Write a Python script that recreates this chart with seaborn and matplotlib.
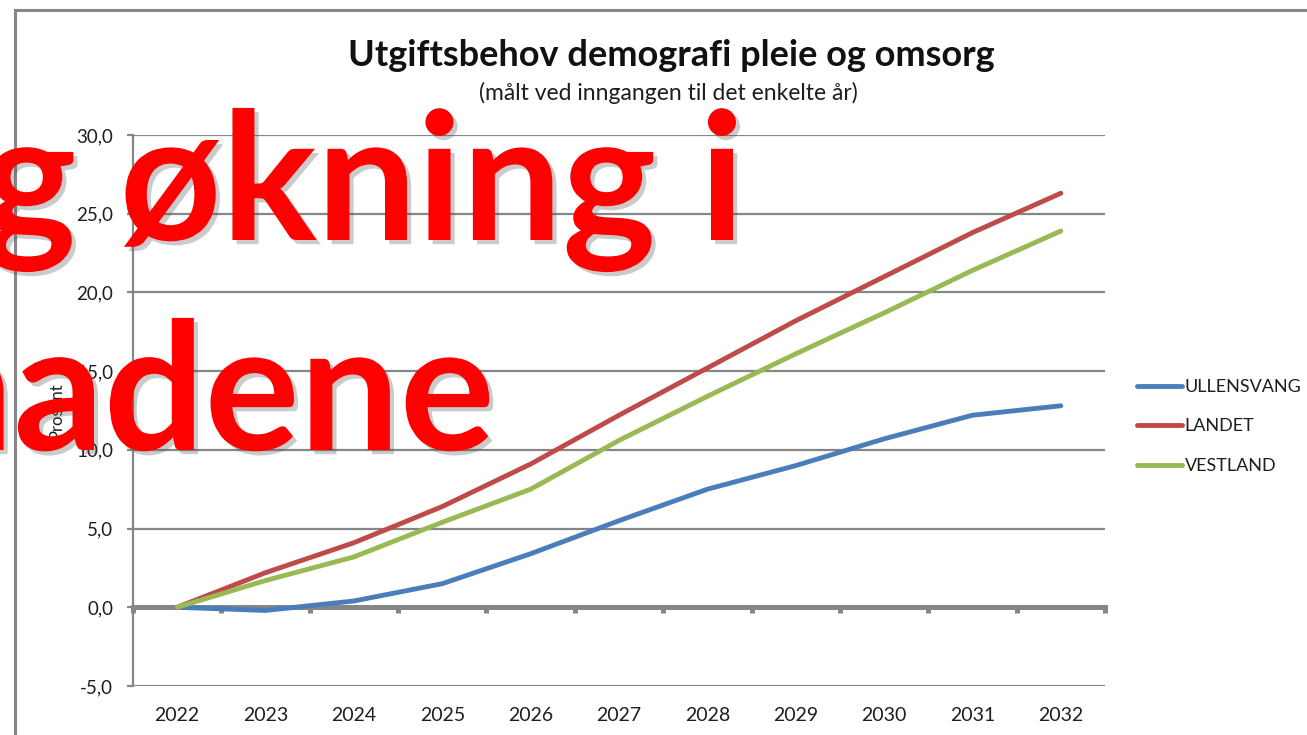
import numpy as np
import pandas as pd
import matplotlib
matplotlib.use("Agg")
import matplotlib.pyplot as plt
import matplotlib.patheffects as pe
from matplotlib.patches import Rectangle
import seaborn as sns

years = [2022, 2023, 2024, 2025, 2026, 2027, 2028, 2029, 2030, 2031, 2032]
ullensvang = [0.0, -0.2, 0.4, 1.5, 3.4, 5.5, 7.5, 9.0, 10.7, 12.2, 12.8]
landet = [0.0, 2.2, 4.1, 6.4, 9.1, 12.2, 15.2, 18.2, 21.0, 23.8, 26.3]
vestland = [0.0, 1.7, 3.2, 5.4, 7.5, 10.6, 13.4, 16.1, 18.7, 21.4, 23.9]
series_names = ["ULLENSVANG", "LANDET", "VESTLAND"]
colors = ["#4A7EBB", "#BE4B48", "#98B954"]
yticks = [-5, 0, 5, 10, 15, 20, 25, 30]
title = "Utgiftsbehov demografi pleie og omsorg"
subtitle = "(målt ved inngangen til det enkelte år)"
ylabel = "Prosent"
overlay1 = "g økning i"
overlay2 = "nadene"

df = pd.DataFrame({
    "year": years * 3,
    "value": ullensvang + landet + vestland,
    "series": [s for s in series_names for _ in years],
})

sns.set_theme(style="white")
plt.rcParams["font.family"] = ["Lato", "DejaVu Sans"]

fig = plt.figure(figsize=(13.07, 7.35), dpi=100)
W, H = 1307, 735
ax = fig.add_axes([133 / W, 1 - 686 / H, (1105 - 133) / W, (686 - 135) / H])

grid_c = "#868686"
txt_c = "#1e1e1e"
for y in yticks:
    if y != 0:
        ax.axhline(y, color=grid_c, lw=1.6, zorder=1)

sns.lineplot(data=df, x="year", y="value", hue="series", palette=colors,
             hue_order=series_names, lw=3.5, ax=ax, zorder=3, legend=True)

ax.set_xlim(2021.5, 2032.5)
ax.set_ylim(-5, 30)
ax.set_yticks(yticks)
ax.set_yticklabels([f"{v:.1f}".replace(".", ",") for v in yticks])
ax.set_xticks(years)
ax.set_xticklabels([str(y) for y in years])
ax.set_xticks([y + 0.5 for y in [2021] + years], minor=True)

for s in ["top", "right"]:
    ax.spines[s].set_visible(False)
ax.spines["left"].set_color(grid_c)
ax.spines["left"].set_linewidth(1.6)
ax.spines["bottom"].set_position(("data", 0))
ax.spines["bottom"].set_color(grid_c)
ax.spines["bottom"].set_linewidth(3.6)
ax.spines["bottom"].set_zorder(2)

ax.tick_params(axis="y", which="major", direction="out", length=4.3, width=1.6,
               color=grid_c, labelsize=13.5, labelcolor=txt_c, pad=10, left=True)
ax.tick_params(axis="x", which="major", length=0, labelsize=14,
               labelcolor=txt_c, pad=72)
ax.tick_params(axis="x", which="minor", direction="out", length=4, width=3.6,
               color=grid_c, bottom=True)
ax.set_xlabel("")
ax.set_ylabel(ylabel, fontsize=12, color=txt_c, labelpad=8)

leg = ax.legend(title=None, frameon=False, fontsize=13, loc="center left",
                bbox_to_anchor=(1.016, 0.471), handlelength=2.5,
                handletextpad=0.15, labelspacing=1.3)
for line in leg.get_lines():
    line.set_linewidth(3.5)
for t in leg.get_texts():
    t.set_color(txt_c)

fig.text(671 / W, 1 - 55 / H, title, ha="center", va="center",
         fontsize=26, fontweight="bold", color="#111111")
fig.text(668 / W, 1 - 93 / H, subtitle, ha="center", va="center",
         fontsize=16.5, color=txt_c)

fig.patches.append(Rectangle((15 / W, -0.05), 1.1, 1 - 10 / H + 0.05,
                             transform=fig.transFigure, fill=False,
                             edgecolor=grid_c, lw=2.2, zorder=0))

shadow = [pe.SimplePatchShadow(offset=(3, -3), alpha=0.3, shadow_rgbFace="#555555"),
          pe.Normal()]
fig.text(745 / W, 1 - 240 / H, overlay1, ha="right", va="baseline",
         fontsize=128, fontweight="bold", color="#FF0000",
         path_effects=shadow, zorder=10)
fig.text(495 / W, 1 - 450 / H, overlay2, ha="right", va="baseline",
         fontsize=128, fontweight="bold", color="#FF0000",
         path_effects=shadow, zorder=10)

fig.savefig("out.png", dpi=100)
